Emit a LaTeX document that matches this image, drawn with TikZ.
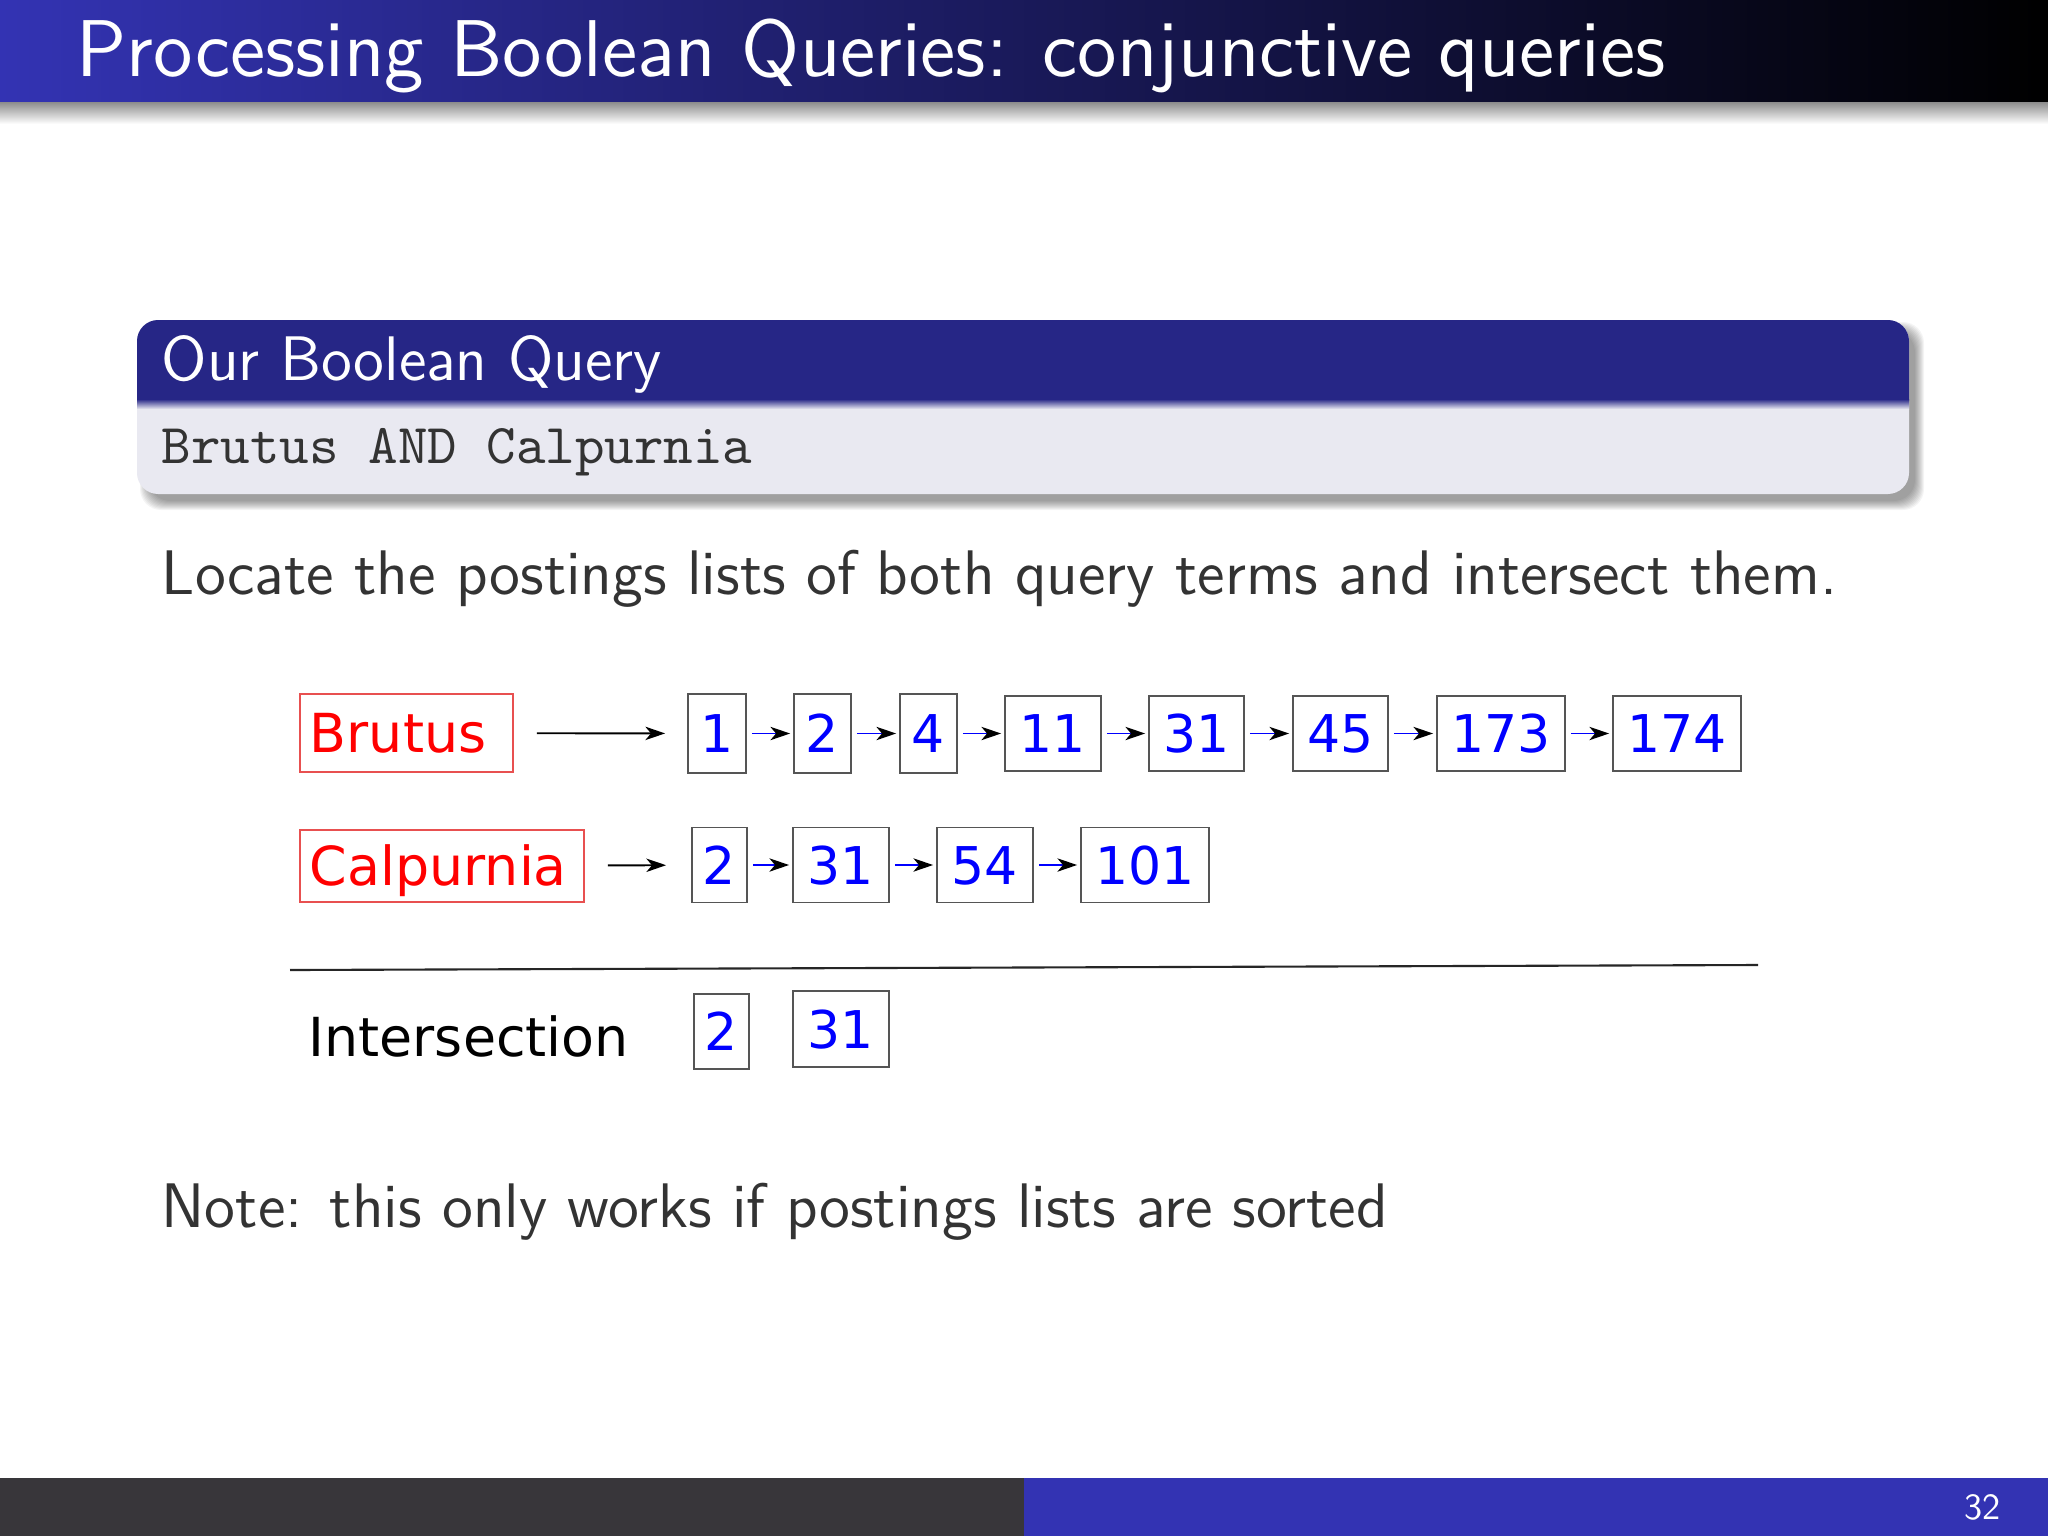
\documentclass[tikz,border=0pt]{standalone}
\usepackage{fontspec}
\newfontfamily\dv{DejaVu Sans}
\newfontfamily\lmsstw{lmsans12-regular.otf}
\newfontfamily\lmttten{lmmono10-regular.otf}
\usetikzlibrary{arrows.meta}
\definecolor{struct}{RGB}{51,51,179}
\definecolor{blocktitle}{RGB}{38,38,134}
\definecolor{blockbody}{RGB}{233,233,241}
\definecolor{bodytext}{RGB}{51,51,51}
\definecolor{footdark}{RGB}{56,54,58}
\definecolor{boxgray}{RGB}{85,85,85}
\definecolor{namered}{RGB}{232,80,80}
\begin{document}
\begin{tikzpicture}[x=0.01cm,y=-0.01cm,
  pbox/.style={draw=boxgray, line width=0.5pt, inner sep=0pt, text=blue,
    font=\dv\fontsize{14.8pt}{18pt}\selectfont, text height=10.8pt, text depth=0pt},
  namebox/.style={draw=namered, line width=0.4pt, inner xsep=0.1cm, inner ysep=0pt, text=red, align=left,
    font=\dv\fontsize{15.3pt}{18pt}\selectfont, text height=11.1pt, text depth=0pt},
  headarrow/.style={line width=0.55pt, black, -{Stealth[length=5.6pt,width=3.8pt,inset=1.6pt]},
    shorten <=0.23cm, shorten >=0.22cm},
  linkarrow/.style={line width=0.45pt, blue, -{Stealth[length=5.6pt,width=3.8pt,inset=1.6pt,color=black]},
    shorten <=0.05cm, shorten >=0.03cm},
  bodyfont/.style={font=\lmsstw\fontsize{17.9pt}{21pt}\selectfont, text=bodytext, inner sep=0pt, anchor=base west}]
\useasboundingbox (0,0) rectangle (2048,1536);
\fill[white] (0,0) rectangle (2048,1536);
% title bar
\shade[left color=struct, right color=black] (0,0) rectangle (2048,102);
\shade[top color=black!45, bottom color=white] (0,102) rectangle (2048,124);
\node[anchor=base west, text=white, inner sep=0pt, font=\lmsstw\fontsize{22.9pt}{28pt}\selectfont] (title) at (76,76) {Processing Boolean Queries: conjunctive queries};
% block shadow
\foreach \i in {1,...,10} {
  \fill[black, opacity=0.045, rounded corners=6pt] (150-\i,332-\i) rectangle (1914+\i,500+\i);
}
% block
\fill[blockbody, rounded corners=6pt] (137,320) rectangle (1909,494);
\fill[blocktitle] (137,401) {[rounded corners=6pt] -- (137,320) -- (1909,320)} -- (1909,401) -- cycle;
\shade[top color=blocktitle, bottom color=blockbody] (137,399) rectangle (1909,409);
\node[anchor=base west, text=white, inner sep=0pt, font=\lmsstw\fontsize{17.9pt}{21pt}\selectfont] (btitle) at (161,380) {Our Boolean Query};
\node[anchor=base west, text=bodytext, inner sep=0pt, font=\lmttten\fontsize{16pt}{19pt}\selectfont] (query) at (161,463) {Brutus AND Calpurnia};
% body texts
\node[bodyfont] (locate) at (161,594) {Locate the postings lists of both query terms and intersect them.};
\node[bodyfont] (note) at (161,1227) {Note: this only works if postings lists are sorted};
% row 1
\node[namebox, text width=1.93cm, minimum height=0.78cm] (bru) at (406.5,733) {Brutus};
\node[pbox, minimum width=0.58cm, minimum height=0.79cm] (b1) at (717,733.5) {1};
\node[pbox, minimum width=0.57cm, minimum height=0.79cm] (b2) at (822.5,733.5) {2};
\node[pbox, minimum width=0.57cm, minimum height=0.79cm] (b4) at (928.5,733.5) {4};
\node[pbox, minimum width=0.96cm, minimum height=0.75cm] (b11) at (1053,733.5) {11};
\node[pbox, minimum width=0.95cm, minimum height=0.75cm] (b31) at (1196.5,733.5) {31};
\node[pbox, minimum width=0.95cm, minimum height=0.75cm] (b45) at (1340.5,733.5) {45};
\node[pbox, minimum width=1.28cm, minimum height=0.75cm] (b173) at (1501,733.5) {173};
\node[pbox, minimum width=1.28cm, minimum height=0.75cm] (b174) at (1677,733.5) {174};
\draw[headarrow] (bru) -- (b1);
\draw[linkarrow] (b1) -- (b2);
\draw[linkarrow] (b2) -- (b4);
\draw[linkarrow] (b4) -- (b11);
\draw[linkarrow] (b11) -- (b31);
\draw[linkarrow] (b31) -- (b45);
\draw[linkarrow] (b45) -- (b173);
\draw[linkarrow] (b173) -- (b174);
% row 2
\node[namebox, text width=2.64cm, minimum height=0.72cm] (cal) at (442,866) {Calpurnia};
\node[pbox, minimum width=0.55cm, minimum height=0.75cm] (c2) at (719.5,865) {2};
\node[pbox, minimum width=0.96cm, minimum height=0.75cm] (c31) at (841,865) {31};
\node[pbox, minimum width=0.96cm, minimum height=0.75cm] (c54) at (985,865) {54};
\node[pbox, minimum width=1.28cm, minimum height=0.75cm] (c101) at (1145,865) {101};
\draw[headarrow, shorten >=0.25cm] (cal) -- (c2);
\draw[linkarrow] (c2) -- (c31);
\draw[linkarrow] (c31) -- (c54);
\draw[linkarrow] (c54) -- (c101);
% divider
\coordinate (divl) at (290,970);
\coordinate (divr) at (1758,965);
\draw[line width=0.6pt, black!85] (divl) -- (divr);
% intersection
\node[anchor=base west, inner sep=0pt, text=black, font=\dv\fontsize{15.3pt}{18pt}\selectfont] (inter) at (308,1056) {Intersection};
\node[pbox, minimum width=0.55cm, minimum height=0.75cm] (i2) at (721.5,1031.5) {2};
\node[pbox, minimum width=0.96cm, minimum height=0.76cm] (i31) at (841,1029) {31};
% footer
\fill[footdark] (0,1478) rectangle (1024,1536);
\fill[struct] (1024,1478) rectangle (2048,1536);
\node[anchor=base east, inner sep=0pt, text=white, font=\lmsstw\fontsize{10.5pt}{12pt}\selectfont] (pgnum) at (2001,1519) {32};
\end{tikzpicture}
\end{document}
